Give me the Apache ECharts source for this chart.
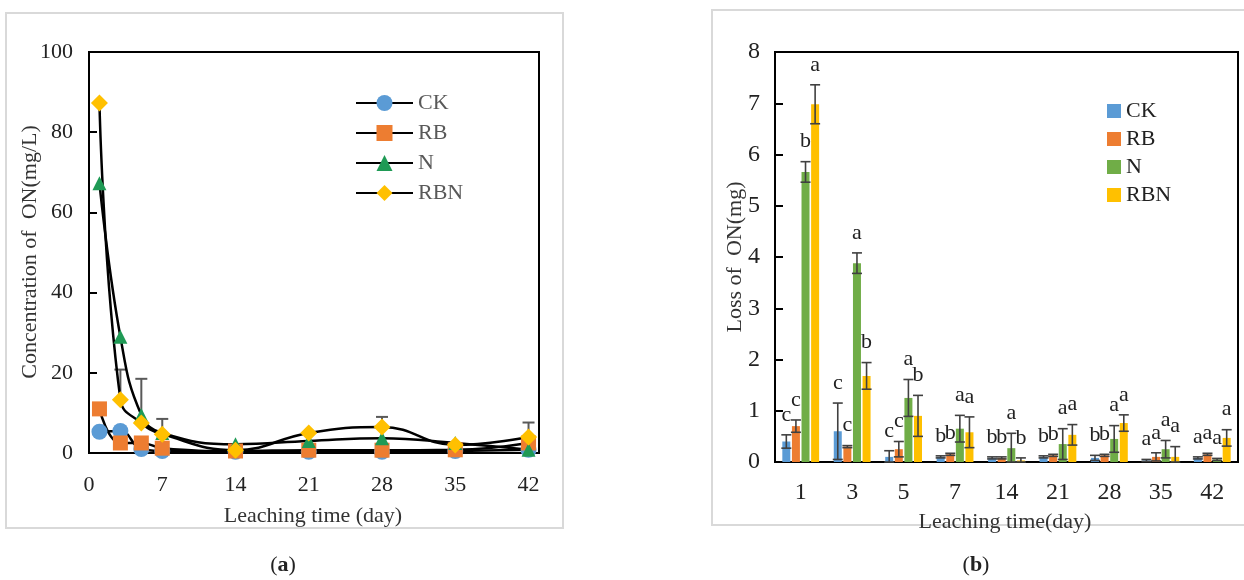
<!DOCTYPE html>
<html>
<head>
<meta charset="utf-8">
<script src="https://cdn.jsdelivr.net/npm/echarts@6/dist/echarts.min.js"></script>
<style>
  html, body { margin: 0; padding: 0; background: #fff; }
  #chart { width: 1244px; height: 580px; }
</style>
</head>
<body>
<div id="chart"></div>
<script>
// (a) concentration of ON in leachate, mg/L
const days = [1, 3, 5, 7, 14, 21, 28, 35, 42];
const ckConc = [5.3, 5.5, 1.0, 0.5, 0.3, 0.3, 0.3, 0.5, 0.8];
const rbConc = [11, 2.5, 2.5, 1.2, 0.5, 0.7, 0.7, 0.8, 2.5];
const nConc = [67.3, 29, 9.5, 5, 2.2, 3, 3.7, 2.5, 0.8];
const rbnConc = [87.3, 13.3, 7.5, 4.7, 0.7, 5, 6.5, 2, 4];
const nConcErr = [0, 0, 9, 0, 0, 0, 0, 0, 0];
const rbnConcErr = [0, 7.5, 0, 3.8, 0, 0, 2.5, 0, 3.6];

// (b) loss of ON, mg
const dayLabels = ['1', '3', '5', '7', '14', '21', '28', '35', '42'];
const ckLoss = [0.4, 0.6, 0.1, 0.1, 0.08, 0.1, 0.08, 0.03, 0.08];
const ckErr = [0.13, 0.55, 0.12, 0.02, 0.02, 0.02, 0.05, 0.02, 0.02];
const rbLoss = [0.7, 0.3, 0.25, 0.15, 0.08, 0.13, 0.13, 0.1, 0.15];
const rbErr = [0.12, 0.02, 0.15, 0.02, 0.02, 0.02, 0.02, 0.08, 0.02];
const nLoss = [5.66, 3.88, 1.25, 0.65, 0.27, 0.35, 0.45, 0.25, 0.05];
const nErr = [0.2, 0.2, 0.36, 0.26, 0.29, 0.3, 0.26, 0.17, 0.02];
const rbnLoss = [6.98, 1.68, 0.9, 0.58, 0.03, 0.53, 0.76, 0.1, 0.47];
const rbnErr = [0.38, 0.26, 0.4, 0.3, 0.05, 0.2, 0.16, 0.2, 0.16];
const ckLetters = ['c', 'c', 'c', 'b', 'b', 'b', 'b', 'a', 'a'];
const rbLetters = ['c', 'c', 'c', 'b', 'b', 'b', 'b', 'a', 'a'];
const nLetters = ['b', 'a', 'a', 'a', 'a', 'a', 'a', 'a', 'a'];
const rbnLetters = ['a', 'b', 'b', 'a', 'b', 'a', 'a', 'a', 'a'];

const FONT = '"Liberation Serif", "Times New Roman", serif';
const colors = { CK: '#5B9BD5', RB: '#ED7D31', N: '#70AD47', RBN: '#FFC000' };
const nGreen = '#1F9A55';

const chart = echarts.init(document.getElementById('chart'));

function lineSeries(name, vals, symbol, color, size) {
  return {
    name, type: 'line', xAxisIndex: 0, yAxisIndex: 0,
    data: days.map((d, i) => [d, vals[i]]),
    smooth: 0.45, symbol, symbolSize: size, showAllSymbol: true,
    lineStyle: { color: '#000', width: 2.5 },
    itemStyle: { color, borderWidth: 0 },
    z: 3
  };
}

// error bars for (a), upward only
const concErrData = [];
days.forEach((d, i) => {
  if (nConcErr[i] > 0) concErrData.push([d, nConc[i], nConcErr[i]]);
  if (rbnConcErr[i] > 0) concErrData.push([d, rbnConc[i], rbnConcErr[i]]);
});

const BAR_W = 8, BAR_STEP = 9.6;
function barSeries(name, vals, color) {
  return {
    name: name + ' ', type: 'bar', xAxisIndex: 1, yAxisIndex: 1,
    data: vals, barWidth: BAR_W, barGap: '20%',
    itemStyle: { color }
  };
}
function errLetterSeries(k, vals, errs, letters) {
  return {
    type: 'custom', xAxisIndex: 1, yAxisIndex: 1, z: 5, silent: true,
    data: vals.map((v, i) => [i, v, errs[i]]),
    encode: { x: 0, y: 1 },
    renderItem: (params, api) => {
      const i = api.value(0), v = api.value(1), e = api.value(2);
      const off = (k - 1.5) * BAR_STEP;
      const top = api.coord([i, v + e]);
      const bot = api.coord([i, Math.max(v - e, 0)]);
      const x = top[0] + off;
      const st = { stroke: '#404040', lineWidth: 1.6 };
      return {
        type: 'group', children: [
          { type: 'line', shape: { x1: x, y1: top[1], x2: x, y2: bot[1] }, style: st },
          { type: 'line', shape: { x1: x - 5, y1: top[1], x2: x + 5, y2: top[1] }, style: st },
          { type: 'line', shape: { x1: x - 5, y1: bot[1], x2: x + 5, y2: bot[1] }, style: st },
          { type: 'text', style: { text: letters[i], x: x, y: top[1] - 9, align: 'center', verticalAlign: 'bottom', font: '22px ' + FONT, fill: '#222' } }
        ]
      };
    }
  };
}

const option = {
  animation: false,
  backgroundColor: '#fff',
  grid: [
    { left: 89, top: 52, width: 450, height: 401, show: true, borderColor: '#000', borderWidth: 2 },
    { left: 775, top: 52, width: 463, height: 410, show: true, borderColor: '#000', borderWidth: 2 }
  ],
  xAxis: [
    {
      type: 'value', gridIndex: 0, min: 0, max: 43, interval: 7,
      axisLine: { lineStyle: { color: '#000', width: 2 } },
      axisTick: { show: false }, splitLine: { show: false },
      axisLabel: { showMaxLabel: false, margin: 21, color: '#222', fontFamily: FONT, fontSize: 22 }
    },
    {
      type: 'category', gridIndex: 1, data: dayLabels,
      axisLine: { lineStyle: { color: '#000', width: 2 } },
      axisTick: { show: false },
      axisLabel: { margin: 19, color: '#222', fontFamily: FONT, fontSize: 24 }
    }
  ],
  yAxis: [
    {
      type: 'value', gridIndex: 0, min: 0, max: 100, interval: 20,
      axisLine: { show: true, lineStyle: { color: '#000', width: 2 } },
      axisTick: { show: true, inside: true, length: 8, lineStyle: { color: '#000', width: 2 } },
      splitLine: { show: false },
      axisLabel: { margin: 16, color: '#222', fontFamily: FONT, fontSize: 22 }
    },
    {
      type: 'value', gridIndex: 1, min: 0, max: 8, interval: 1,
      axisLine: { show: true, lineStyle: { color: '#000', width: 2 } },
      axisTick: { show: true, inside: true, length: 8, lineStyle: { color: '#000', width: 2 } },
      splitLine: { show: false },
      axisLabel: { margin: 15, color: '#222', fontFamily: FONT, fontSize: 24 }
    }
  ],
  legend: [
    {
      data: ['CK', 'RB', 'N', 'RBN'], orient: 'vertical', left: 355, top: 92, padding: 0,
      itemWidth: 57, itemHeight: 20, itemGap: 8,
      textStyle: { color: '#595959', fontFamily: FONT, fontSize: 22 }
    },
    {
      data: ['CK ', 'RB ', 'N ', 'RBN '], orient: 'vertical', left: 1107, top: 100, padding: 0,
      icon: 'rect', itemWidth: 14, itemHeight: 14, itemGap: 6,
      formatter: n => n.trim(),
      textStyle: { color: '#222', fontFamily: FONT, fontSize: 22 }
    }
  ],
  graphic: [
    { type: 'rect', shape: { x: 6, y: 13, width: 557, height: 515 }, style: { fill: 'none', stroke: '#d9d9d9', lineWidth: 2 }, silent: true },
    { type: 'rect', shape: { x: 712, y: 10, width: 545, height: 515 }, style: { fill: 'none', stroke: '#d9d9d9', lineWidth: 2 }, silent: true },
    { type: 'text', x: 30, y: 252, rotation: Math.PI / 2, style: { text: 'Concentration of  ON(mg/L)', font: '22px ' + FONT, fill: '#333', align: 'center', verticalAlign: 'middle' } },
    { type: 'text', x: 313, y: 516, style: { text: 'Leaching time (day)', font: '22px ' + FONT, fill: '#333', align: 'center', verticalAlign: 'middle' } },
    { type: 'text', x: 735, y: 257, rotation: Math.PI / 2, style: { text: 'Loss of  ON(mg)', font: '22px ' + FONT, fill: '#333', align: 'center', verticalAlign: 'middle' } },
    { type: 'text', x: 1005, y: 522, style: { text: 'Leaching time(day)', font: '22px ' + FONT, fill: '#333', align: 'center', verticalAlign: 'middle' } },
    { type: 'text', x: 283, y: 565, style: { text: '{p|(}{b|a}{p|)}', align: 'center', verticalAlign: 'middle', rich: { p: { font: '22px ' + FONT, fill: '#222' }, b: { font: 'bold 22px ' + FONT, fill: '#222' } } } },
    { type: 'text', x: 976, y: 565, style: { text: '{p|(}{b|b}{p|)}', align: 'center', verticalAlign: 'middle', rich: { p: { font: '22px ' + FONT, fill: '#222' }, b: { font: 'bold 22px ' + FONT, fill: '#222' } } } }
  ],
  series: [
    {
      type: 'custom', xAxisIndex: 0, yAxisIndex: 0, z: 1, silent: true,
      data: concErrData, encode: { x: 0, y: 1 },
      renderItem: (params, api) => {
        const p0 = api.coord([api.value(0), api.value(1)]);
        const p1 = api.coord([api.value(0), api.value(1) + api.value(2)]);
        const st = { stroke: '#595959', lineWidth: 2 };
        return {
          type: 'group', children: [
            { type: 'line', shape: { x1: p0[0], y1: p0[1], x2: p1[0], y2: p1[1] }, style: st },
            { type: 'line', shape: { x1: p1[0] - 6, y1: p1[1], x2: p1[0] + 6, y2: p1[1] }, style: st }
          ]
        };
      }
    },
    lineSeries('CK', ckConc, 'circle', colors.CK, 16),
    lineSeries('RB', rbConc, 'rect', colors.RB, 15),
    lineSeries('N', nConc, 'triangle', nGreen, 14),
    lineSeries('RBN', rbnConc, 'diamond', colors.RBN, 17),
    barSeries('CK', ckLoss, colors.CK),
    barSeries('RB', rbLoss, colors.RB),
    barSeries('N', nLoss, colors.N),
    barSeries('RBN', rbnLoss, colors.RBN),
    errLetterSeries(0, ckLoss, ckErr, ckLetters),
    errLetterSeries(1, rbLoss, rbErr, rbLetters),
    errLetterSeries(2, nLoss, nErr, nLetters),
    errLetterSeries(3, rbnLoss, rbnErr, rbnLetters)
  ]
};

chart.setOption(option);
</script>
</body>
</html>
